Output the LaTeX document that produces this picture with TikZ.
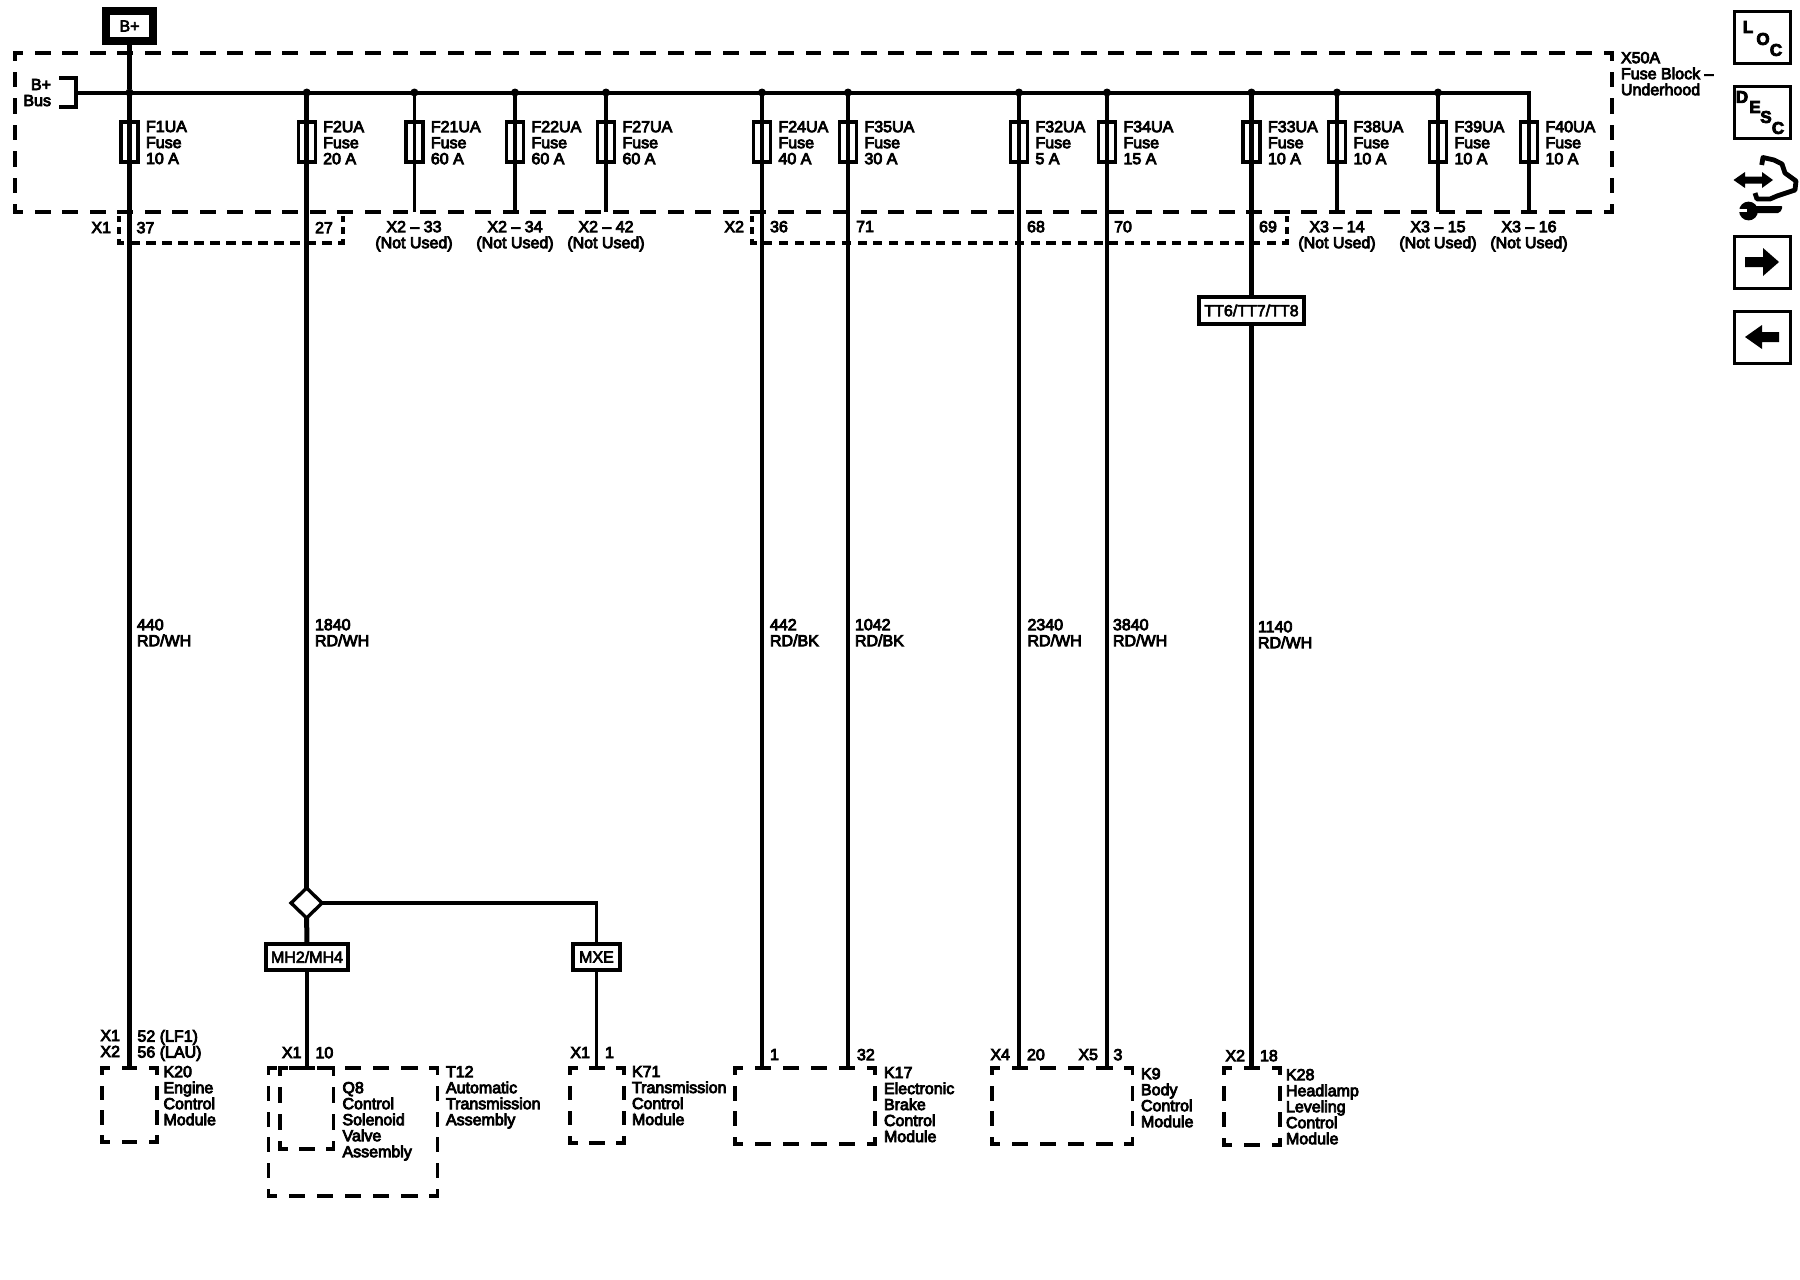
\documentclass[tikz,border=0pt]{standalone}
\usepackage{fontspec}
\setmainfont{Liberation Sans}
\usetikzlibrary{fit,shapes.geometric}
\tikzset{
  txt/.style={inner sep=0pt,outer sep=0pt,align=left,font=\fontsize{8}{8}\selectfont},
  tl/.style={txt,anchor=north west},
  tr/.style={txt,anchor=north east,align=right},
  tc/.style={txt,anchor=north,align=center},
  area/.style={inner sep=0pt,outer sep=0pt},
  fuse/.style={draw,line width=1.7pt,minimum width=8.5pt,minimum height=20pt,inner sep=0pt,outer sep=0pt},
  jdot/.style={circle,fill=black,inner sep=0pt,outer sep=0pt},
  tag/.style={draw,line width=1.7pt,inner sep=0pt,outer sep=0pt,font=\special{pdf:code 0.3 w}\fontsize{8}{8}\selectfont},
  icon/.style={draw,line width=1.8pt,inner sep=0pt,outer sep=0pt,minimum width=28pt,minimum height=26pt},
  letter/.style={inner sep=0pt,font=\bfseries\fontsize{8.5}{8.5}\selectfont},
  wire/.style={line width=#1,line cap=butt},
  wire/.default=2pt
}
% one dashed side whose dashes fit its length, half a dash at each corner
% args: x1 y1 x2 y2 period(px) line width(pt)
\newcommand\fitdash[6]{%
  \pgfmathsetmacro\sidelen{abs(#3-#1)+abs(#4-#2)}%
  \pgfmathsetmacro\sidecnt{max(1,round(\sidelen/#5))}%
  \pgfmathsetmacro\dashon{max(0.2,\sidelen/\sidecnt*0.58*0.5-#6)}%
  \pgfmathsetmacro\dashoff{\sidelen/\sidecnt*0.5-\dashon}%
  \pgfmathsetmacro\dashph{\dashon/2}%
  \draw[line width=#6pt,line cap=rect,dash pattern=on \dashon pt off \dashoff pt,dash phase=\dashph pt] (#1,#2) -- (#3,#4);%
}
% args: name x1 y1 x2 y2 line width
\newcommand\modbox[6]{%
  \node[area,fit={(#2,#3) (#4,#5)}] (#1) {};%
  \fitdash{#2}{#3}{#4}{#3}{27.5}{#6}%
  \fitdash{#2}{#5}{#4}{#5}{27.5}{#6}%
  \fitdash{#2}{#3}{#2}{#5}{27.5}{#6}%
  \fitdash{#4}{#3}{#4}{#5}{27.5}{#6}%
}
\begin{document}
\special{pdf:code 2 Tr 0.2 w}\begin{tikzpicture}[x=0.5pt,y=-0.5pt]
\fill[white] (0,0) rectangle (1800,1280);
\useasboundingbox (0,0) rectangle (1800,1280);

% block and modules
\modbox{block}{15}{53}{1612}{212}{2}
\modbox{k20}{102}{1068}{157}{1142}{1.9}
\modbox{q8}{280}{1068}{333.5}{1149}{1.9}
\modbox{t12}{268.5}{1068}{437.5}{1196}{1.9}
\modbox{k71}{570}{1068}{624}{1143}{1.9}
\modbox{k17}{735}{1068}{875}{1144}{1.9}
\modbox{k9}{992}{1068}{1132.5}{1144}{1.9}
\modbox{k28}{1224}{1068}{1280}{1145}{1.9}

% top source and tags
\node[tag,line width=4pt,minimum width=23.5pt,minimum height=15pt] (bplus) at (129.5,26) {B+};
\node[tag,minimum width=41pt,minimum height=13pt] (mh) at (307,957) {MH2/MH4};
\node[tag,minimum width=23.5pt,minimum height=13pt] (mxe) at (596.5,957) {MXE};
\node[tag,minimum width=52.5pt,minimum height=13.5pt] (tt) at (1251.5,310.5) {TT6/TT7/TT8};
\node[draw,diamond,aspect=1.1,line width=1.7pt,inner sep=0pt,outer sep=0pt,minimum width=15.5pt,minimum height=15pt] (dia) at (306.6,903) {};

% bus
\coordinate (busl) at (76,93);
\coordinate (bust) at (59,78);
\coordinate (busb) at (59,107);
\coordinate (j40) at (1529,93);
\draw[line width=2pt,line cap=rect] (busl) -- (j40);
\draw[line width=2pt] (bust) -| (busl) |- (busb);

% fuses: name/x/wire width/dot/amps/end node/end side
\foreach \n/\x/\w/\d/\a/\e/\s in {
  1/129.5/2.7/4/10/k20/north,
  2/306.7/2.5/4/20/dia/north,
  21/414.4/1.7/4/60/block/south,
  22/515/2.2/4/60/block/south,
  27/606/2.2/4/60/block/south,
  24/762/2.0/4/40/k17/north,
  35/848/1.8/4/30/k17/north,
  32/1019/2.0/4/5/k9/north,
  34/1107/2.0/4/15/k9/north,
  33/1251.5/2.5/4/10/tt/north,
  38/1337/2.0/4/10/block/south,
  39/1438/1.6/4/10/block/south,
  40/1529/2.0/0/10/block/south}{
  \node[fuse] (f\n) at (\x,142) {};
  \node[jdot,minimum size=\d pt] (j\n) at (\x,92.5) {};
  \node[tl] (lf\n) at (\x+16.5,121) {F\n UA\\Fuse\\\a\ A};
  \draw[line width=\w pt] (\x,93) -- (f\n.north) -- (f\n.south) -- (f\n.south |- \e.\s);
}
\draw[wire=2.7pt] (bplus.south) -- (j1);
\draw[wire=2.5pt] (dia.south) -- (mh.north);
\draw[wire=1.7pt] (mh.south) -- (mh.south |- q8.north);
\draw[wire=1.6pt] (dia.east) -| (mxe.north);
\draw[wire=1.6pt] (mxe.south) -- (mxe.south |- k71.north);
\draw[wire=2.5pt] (tt.south) -- (tt.south |- k28.north);

% connectors
\fitdash{119}{218}{119}{243}{12.5}{1.9}
\fitdash{343}{218}{343}{243}{12.5}{1.9}
\fitdash{119}{243}{343}{243}{15.7}{1.9}
\fitdash{752}{218}{752}{243}{12.5}{1.9}
\fitdash{1287}{218}{1287}{243}{12.5}{1.9}
\fitdash{752}{243}{1287}{243}{15.7}{1.9}

% block labels
\node[tl] (x50) at (1621,52) {X50A\\Fuse Block --\\Underhood};
\node[tr] (bb) at (51,79) {B+\\Bus};
\node[tr] (c1l) at (111,222) {X1};
\node[tc] (p37) at (145.5,222) {37};
\node[tc] (p27) at (324,222) {27};
\node[tr] (c2l) at (744,221) {X2};
\node[tc] (p36) at (779,221) {36};
\node[tc] (p71) at (865,221) {71};
\node[tc] (p68) at (1036,221) {68};
\node[tc] (p70) at (1123,221) {70};
\node[tc] (p69) at (1268,221) {69};
\node[tc] (n1) at (414,221) {X2 -- 33\\(Not Used)};
\node[tc] (n2) at (515,221) {X2 -- 34\\(Not Used)};
\node[tc] (n3) at (606,221) {X2 -- 42\\(Not Used)};
\node[tc] (n4) at (1337,221) {X3 -- 14\\(Not Used)};
\node[tc] (n5) at (1438,221) {X3 -- 15\\(Not Used)};
\node[tc] (n6) at (1529,221) {X3 -- 16\\(Not Used)};

% wire labels
\node[tl] (w1) at (137,619) {440\\RD/WH};
\node[tl] (w2) at (315,619) {1840\\RD/WH};
\node[tl] (w3) at (770,619) {442\\RD/BK};
\node[tl] (w4) at (855,619) {1042\\RD/BK};
\node[tl] (w5) at (1027.5,619) {2340\\RD/WH};
\node[tl] (w6) at (1113,619) {3840\\RD/WH};
\node[tl] (w7) at (1258,621) {1140\\RD/WH};

% module pins
\node[tr] (a1) at (120,1030) {X1\\X2};
\node[tl] (a2) at (137.5,1030) {52 (LF1)\\56 (LAU)};
\node[tr] (b1) at (301.5,1047) {X1};
\node[tl] (b2) at (315.5,1047) {10};
\node[tr] (c1) at (590,1047) {X1};
\node[tl] (c2) at (605,1047) {1};
\node[tl] (d1) at (770,1049) {1};
\node[tl] (d2) at (857,1049) {32};
\node[tr] (e1) at (1010,1049) {X4};
\node[tl] (e2) at (1027,1049) {20};
\node[tr] (e3) at (1098,1049) {X5};
\node[tl] (e4) at (1113.5,1049) {3};
\node[tr] (g1) at (1245,1050) {X2};
\node[tl] (g2) at (1260,1050) {18};

% module names
\node[tl] (m1) at (163.5,1066) {K20\\Engine\\Control\\Module};
\node[tl] (m2) at (342.5,1082) {Q8\\Control\\Solenoid\\Valve\\Assembly};
\node[tl] (m3) at (446,1066) {T12\\Automatic\\Transmission\\Assembly};
\node[tl] (m4) at (632,1066) {K71\\Transmission\\Control\\Module};
\node[tl] (m5) at (884,1067) {K17\\Electronic\\Brake\\Control\\Module};
\node[tl] (m6) at (1141,1068) {K9\\Body\\Control\\Module};
\node[tl] (m7) at (1286,1069) {K28\\Headlamp\\Leveling\\Control\\Module};

% side icons
\node[icon] (loc) at (1762.5,37.5) {};
\node[letter] (l1) at (1748,27) {L};
\node[letter] (l2) at (1763,39) {O};
\node[letter] (l3) at (1776,50) {C};
\node[icon] (desc) at (1762.5,112.5) {};
\node[letter] (d1l) at (1742,97) {D};
\node[letter] (d2l) at (1755,107) {E};
\node[letter] (d3l) at (1766,117) {S};
\node[letter] (d4l) at (1778,128) {C};
\node[icon] (fwd) at (1762.5,262.5) {};
\fill (1745,257) -- (1763,257) -- (1763,248) -- (1779,262) -- (1763,276) -- (1763,267) -- (1745,267) -- cycle;
\node[icon] (back) at (1762.5,337.5) {};
\fill (1779,332) -- (1762,332) -- (1762,325) -- (1745,337) -- (1762,349) -- (1762,342) -- (1779,342) -- cycle;
% double arrow, hand and wrench
\fill (1733.5,180) -- (1745,172) -- (1745,176.5) -- (1762,176.5) -- (1762,172) -- (1773,180) -- (1762,188) -- (1762,183.5) -- (1745,183.5) -- (1745,188) -- cycle;
\draw[line width=2.4pt,line join=round] (1761.7,165) -- (1763,157.5) -- (1774,160) -- (1782,164) -- (1785,173) -- (1796,181) -- (1795,190) -- (1777,196) -- (1770,199) -- (1757,199) -- (1755,193);
\fill[rounded corners=1pt] (1752,206) -- (1783,206) -- (1780,213) -- (1752,213) -- cycle;
\fill (1748.5,211) circle (4.7pt);
\fill[white] (1739,208.5) rectangle (1747,212);
\end{tikzpicture}
\end{document}
